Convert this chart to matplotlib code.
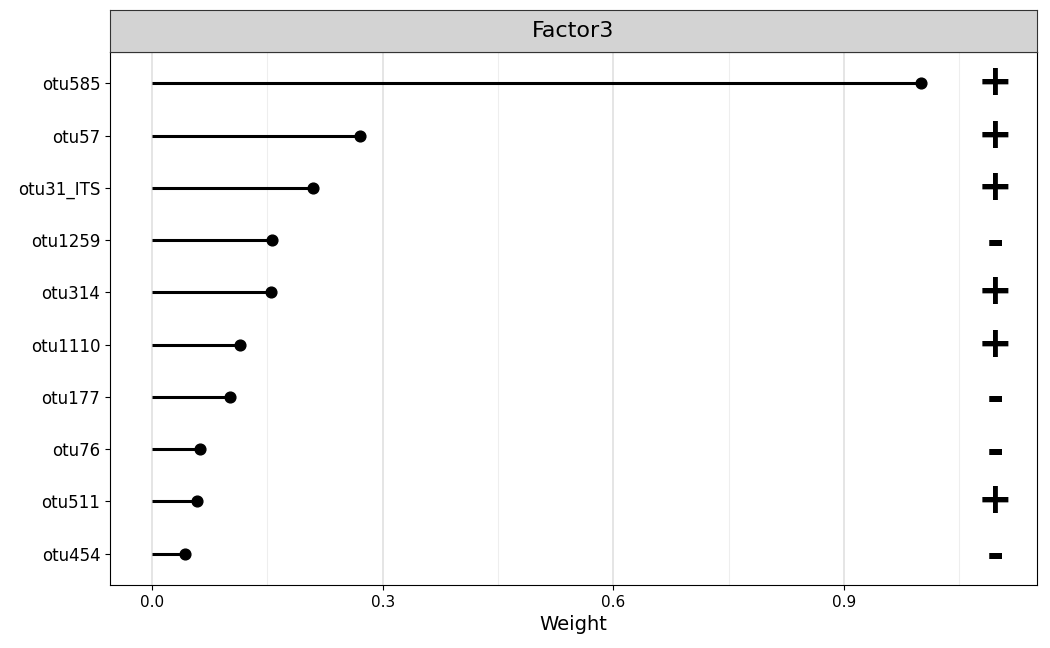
import matplotlib.pyplot as plt
import numpy as np

otus = ['otu585', 'otu57', 'otu31_ITS', 'otu1259', 'otu314', 'otu1110', 'otu177', 'otu76', 'otu511', 'otu454']
weights = [1.0, 0.270, 0.209, 0.156, 0.155, 0.114, 0.101, 0.062, 0.059, 0.043]
signs = ['+', '+', '+', '-', '+', '+', '-', '-', '+', '-']
sign_x = 1.097

fig = plt.figure(figsize=(10.5, 6.48), dpi=100)
ax = fig.add_axes([0.1048, 0.0972, 0.8828, 0.8226])

y = np.arange(len(otus))[::-1]
ax.hlines(y, 0, weights, color='black', lw=2.2, zorder=3)
ax.scatter(weights, y, color='black', s=60, zorder=4)
for yi, s in zip(y, signs):
    if s == '+':
        ax.text(sign_x, yi, '+', fontsize=30, fontweight='bold', ha='center', va='center')
    else:
        ax.text(sign_x, yi - 0.05, '-', fontsize=30, fontweight='bold', ha='center', va='center')

ax.set_xlim(-0.0546, 1.151)
ax.set_ylim(-0.6, 9.6)
ax.set_yticks(y)
ax.set_yticklabels(otus, fontsize=12)
ax.set_xticks([0, 0.3, 0.6, 0.9])
ax.set_xticklabels(['0.0', '0.3', '0.6', '0.9'], fontsize=11)
ax.set_xticks([0.15, 0.45, 0.75, 1.05], minor=True)
ax.grid(axis='x', which='major', color='#e0e0e0', lw=1.2)
ax.grid(axis='x', which='minor', color='#eeeeee', lw=0.8)
ax.tick_params(axis='x', which='minor', length=0)
ax.set_axisbelow(True)
ax.set_xlabel('Weight', fontsize=14)
for sp in ax.spines.values():
    sp.set_color('black')
    sp.set_linewidth(0.8)

# facet strip
strip = fig.add_axes([0.1048, 0.9198, 0.8828, 42 / 648])
strip.set_facecolor('#d3d3d3')
strip.set_xticks([])
strip.set_yticks([])
for sp in strip.spines.values():
    sp.set_color('#333333')
    sp.set_linewidth(0.8)
strip.text(0.5, 0.5, 'Factor3', fontsize=16, ha='center', va='center', transform=strip.transAxes)

fig.savefig('out.png', dpi=100)
